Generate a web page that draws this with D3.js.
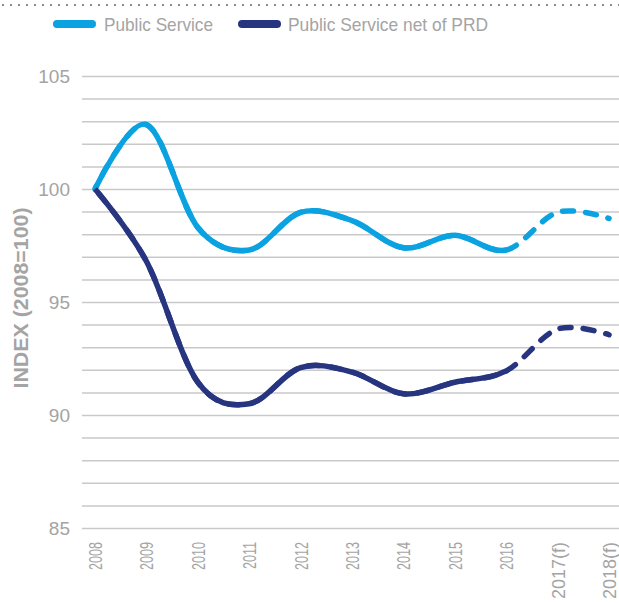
<!DOCTYPE html>
<html>
<head>
<meta charset="utf-8">
<script src="https://cdn.jsdelivr.net/npm/d3@7"></script>
<style>
  body { margin: 0; background: #fff; }
  svg { display: block; font-family: "Liberation Sans", Arial, sans-serif; }
</style>
</head>
<body>
<div id="chart"></div>
<script>
const Width = 619;
const Height = 603;

// data
const years = ['2008', '2009', '2010', '2011', '2012', '2013', '2014', '2015', '2016', '2017(f)', '2018(f)'];
const publicService = [100, 102.85, 98.3, 97.3, 98.97, 98.6, 97.4, 97.95, 97.3, 98.97, 98.7];
const netOfPRD = [100, 96.8, 91.45, 90.5, 92.1, 91.9, 90.94, 91.45, 91.95, 93.8, 93.55];
const yTicks = d3.range(85, 106, 1);
const lastActual = '2016';

const seriesList = [
  { name: 'Public Service', values: publicService, color: '#0aa2e0' },
  { name: 'Public Service net of PRD', values: netOfPRD, color: '#27347f' }
];

const TextColor = '#a4a4a4';
const GridColor = '#c9c9c9';
const PlotLeft = 82;

const svg = d3.select('#chart').append('svg')
  .attr('width', Width)
  .attr('height', Height);

//scales
const x = d3.scalePoint().domain(years).range([95, 609]);
const y = d3.scaleLinear().domain([85, 105]).range([528, 76]);

//dotted rule at the top
svg.append('line')
  .attr('x1', 2).attr('x2', Width)
  .attr('y1', 5).attr('y2', 5)
  .attr('stroke', '#8c8c8c')
  .attr('stroke-width', 2)
  .attr('stroke-dasharray', '2 6');

//legend
const legendX = [53, 238];
const legendTextLen = [109, 200];
const legend = svg.selectAll('.legend')
  .data(seriesList)
  .enter().append('g')
  .attr('class', 'legend')
  .attr('transform', (d, i) => 'translate(' + legendX[i] + ',24)');

legend.append('line')
  .attr('x1', 4).attr('x2', 39)
  .attr('stroke', d => d.color)
  .attr('stroke-width', 8)
  .attr('stroke-linecap', 'round');

legend.append('text')
  .attr('x', (d, i) => i === 0 ? 51 : 50)
  .attr('y', 7)
  .attr('fill', TextColor)
  .style('font-size', '19px')
  .attr('textLength', (d, i) => legendTextLen[i])
  .attr('lengthAdjust', 'spacingAndGlyphs')
  .text(d => d.name);

//y axis with gridlines
const yAxis = svg.append('g')
  .attr('transform', 'translate(' + PlotLeft + ',0)')
  .call(d3.axisLeft(y)
    .tickValues(yTicks)
    .tickSize(-(Width - PlotLeft))
    .tickPadding(12)
    .tickFormat(d => d % 5 === 0 ? d : ''));
yAxis.select('.domain').remove();
yAxis.selectAll('.tick line')
  .attr('stroke', GridColor)
  .attr('stroke-width', 1.5);
yAxis.selectAll('.tick text')
  .attr('fill', TextColor)
  .style('font-size', '19px')
  .style('font-family', '"Liberation Sans", Arial, sans-serif');

//y axis title
svg.append('text')
  .attr('transform', 'translate(28,298) rotate(-90)')
  .attr('text-anchor', 'middle')
  .attr('fill', TextColor)
  .style('font-size', '20px')
  .style('font-weight', 'bold')
  .attr('textLength', 181)
  .attr('lengthAdjust', 'spacingAndGlyphs')
  .text('INDEX (2008=100)');

//x axis labels (plain years are drawn condensed, like the reference)
const xAxis = svg.append('g')
  .attr('transform', 'translate(0,528)')
  .call(d3.axisBottom(x).tickSize(0).tickPadding(0));
xAxis.select('.domain').remove();
xAxis.selectAll('.tick text')
  .attr('transform', d => 'rotate(-90) scale(' + (d.length > 4 ? 1 : 0.7) + ',1)')
  .attr('x', d => -14 / (d.length > 4 ? 1 : 0.7))
  .attr('y', 0)
  .attr('dy', '0.36em')
  .attr('text-anchor', 'end')
  .attr('fill', TextColor)
  .style('font-size', '18px')
  .style('font-family', '"Liberation Sans", Arial, sans-serif');

//lines
const line = d3.line()
  .x((d, i) => x(years[i]))
  .y(d => y(d))
  .curve(d3.curveCardinal.tension(0));

const dash = 11;
const gap = 12;

seriesList.forEach(s => {
  //dashed full line underneath, phase set so a dash starts at the last actual year
  const dashed = svg.append('path')
    .attr('d', line(s.values))
    .attr('fill', 'none')
    .attr('stroke', s.color)
    .attr('stroke-width', 5.5)
    .attr('stroke-linecap', 'round');

  const node = dashed.node();
  const total = node.getTotalLength();
  const xCut = x(lastActual);
  let lo = 0, hi = total;
  for (let k = 0; k < 40; k++) {
    const mid = (lo + hi) / 2;
    if (node.getPointAtLength(mid).x < xCut) lo = mid; else hi = mid;
  }
  const cutLen = lo;

  dashed
    .attr('stroke-dasharray', dash + ' ' + gap)
    .attr('stroke-dashoffset', -cutLen);

  //solid part up to the last actual year
  svg.append('path')
    .attr('d', line(s.values))
    .attr('fill', 'none')
    .attr('stroke', s.color)
    .attr('stroke-width', 5.5)
    .attr('stroke-linejoin', 'round')
    .attr('stroke-dasharray', cutLen + ' ' + (total + 10));
});
</script>
</body>
</html>
